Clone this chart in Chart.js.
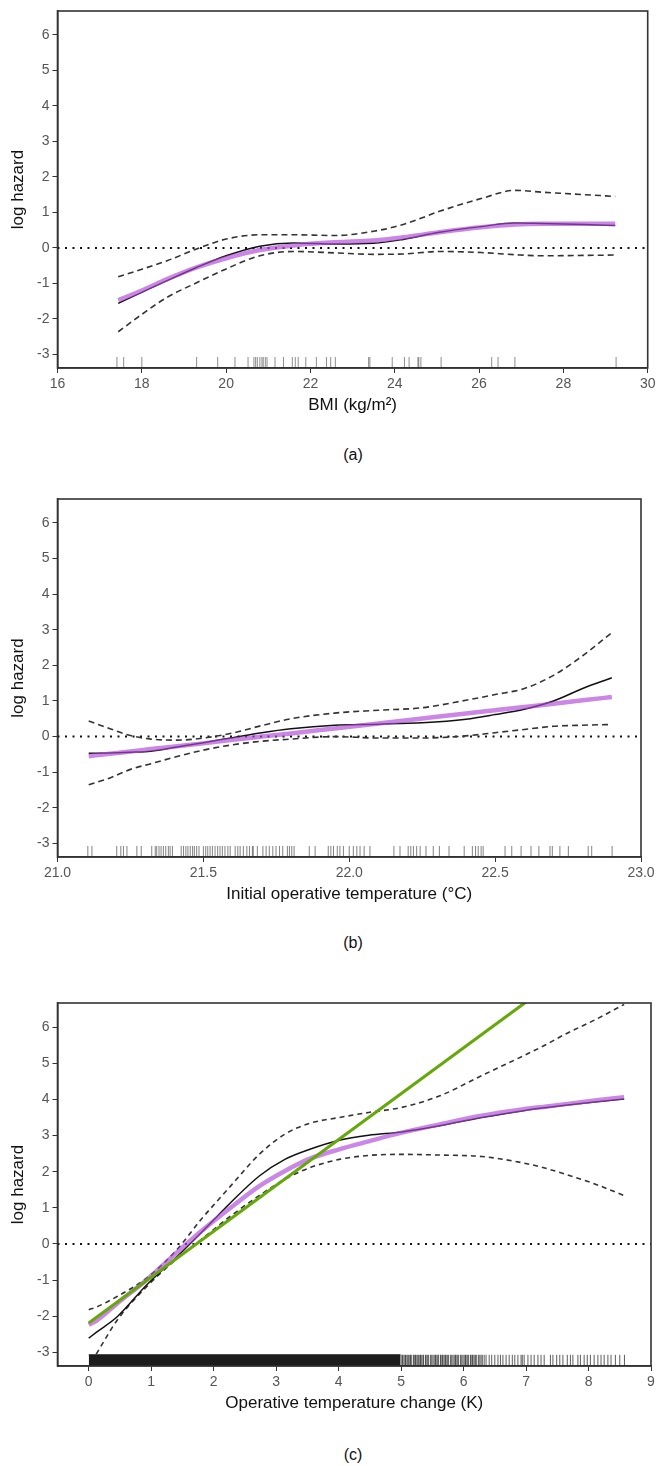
<!DOCTYPE html>
<html>
<head>
<meta charset="utf-8">
<title>log hazard</title>
<script src="https://cdn.jsdelivr.net/npm/chart.js@4.4.1/dist/chart.umd.min.js"></script>
<style>
  body { margin: 0; background: #fff; width: 656px; height: 1466px; position: relative; overflow: hidden; }
  .panel { position: absolute; left: 0; width: 656px; }
  .panel canvas { display: block; }
  .caption { position: absolute; left: 57px; width: 592px; text-align: center; font: 16px Arial, 'Liberation Sans', sans-serif; color: #111; line-height: 20px; }
</style>
</head>
<body>
<div class="panel" style="top:0px"><canvas id="chartA" width="656" height="428"></canvas></div>
<div class="caption" style="top:445px">(a)</div>
<div class="panel" style="top:488px"><canvas id="chartB" width="656" height="429"></canvas></div>
<div class="caption" style="top:933px">(b)</div>
<div class="panel" style="top:992px"><canvas id="chartC" width="656" height="434"></canvas></div>
<div class="caption" style="top:1445px">(c)</div>

<script>
/*** data ***/
const yTicks = [-3, -2, -1, 0, 1, 2, 3, 4, 5, 6];
const yMin = -3.38;
const yMax = 6.67;
const rugTop = -3.07;

// (a) BMI
const bmiTicks = [16, 18, 20, 22, 24, 26, 28, 30];
const bmiX = [17.44, 18.0, 18.6, 19.3, 20.0, 20.8, 21.6, 22.6, 23.5, 24.2, 25.06, 26.05, 26.85, 27.5, 28.5, 29.23];
const bmiSpline = [-1.56, -1.25, -0.92, -0.55, -0.22, 0.05, 0.14, 0.11, 0.13, 0.24, 0.44, 0.6, 0.7, 0.69, 0.66, 0.63];
const bmiSmooth = [-1.47, -1.2, -0.88, -0.55, -0.29, -0.06, 0.07, 0.16, 0.21, 0.3, 0.44, 0.58, 0.66, 0.68, 0.68, 0.68];
const bmiUpper = [-0.81, -0.6, -0.36, -0.03, 0.25, 0.37, 0.37, 0.35, 0.47, 0.66, 1.03, 1.39, 1.62, 1.57, 1.5, 1.45];
const bmiLower = [-2.36, -1.87, -1.39, -0.98, -0.59, -0.22, -0.1, -0.14, -0.18, -0.17, -0.1, -0.13, -0.19, -0.22, -0.21, -0.2];
const bmiRug = [17.41, 17.57, 18.0, 19.3, 19.8, 20.21, 20.52, 20.66, 20.7, 20.74, 20.8, 20.85, 20.88, 20.93, 20.97,
  21.16, 21.36, 21.57, 21.64, 21.71, 21.89, 22.14, 22.38, 22.48, 22.59, 23.38, 23.41, 23.94, 24.23, 24.34,
  24.55, 24.57, 24.62, 25.1, 26.3, 26.45, 26.85, 29.25];

// (b) initial operative temperature
const tempTicks = [21.0, 21.5, 22.0, 22.5, 23.0];
const tempX = [21.107, 21.18, 21.25, 21.32, 21.41, 21.5, 21.6, 21.7, 21.8, 21.95, 22.1, 22.25, 22.4, 22.5, 22.6, 22.7, 22.8, 22.9];
const tempSpline = [-0.47, -0.46, -0.44, -0.41, -0.29, -0.17, -0.03, 0.11, 0.22, 0.32, 0.35, 0.39, 0.49, 0.62, 0.77, 1.0, 1.35, 1.65];
const tempSmooth = [-0.55, -0.48, -0.42, -0.35, -0.27, -0.19, -0.09, 0.0, 0.09, 0.23, 0.37, 0.51, 0.65, 0.74, 0.83, 0.92, 1.02, 1.11];
const tempUpper = [0.44, 0.22, 0.03, -0.07, -0.1, -0.04, 0.1, 0.31, 0.5, 0.66, 0.74, 0.81, 1.02, 1.18, 1.35, 1.72, 2.27, 2.92];
const tempLower = [-1.35, -1.16, -0.92, -0.76, -0.56, -0.38, -0.23, -0.13, -0.07, 0.0, -0.04, -0.04, 0.02, 0.11, 0.2, 0.29, 0.32, 0.34];
const tempRug = [21.104, 21.118, 21.203, 21.217, 21.226, 21.238, 21.272, 21.287,
  21.323, 21.335, 21.34, 21.348, 21.355, 21.363, 21.371, 21.38, 21.386, 21.394,
  21.424, 21.432, 21.44, 21.447, 21.455, 21.463, 21.469, 21.477, 21.485,
  21.5, 21.508, 21.515, 21.523, 21.531, 21.54, 21.549, 21.557, 21.565, 21.574, 21.584, 21.592,
  21.609, 21.618, 21.626, 21.637, 21.649, 21.658, 21.668,
  21.671, 21.685, 21.704, 21.715, 21.726, 21.738, 21.749, 21.761, 21.772, 21.788, 21.795, 21.803, 21.811,
  21.863, 21.883, 21.928, 21.937, 21.946, 21.959, 21.968, 21.98,
  22.0, 22.014, 22.026, 22.037, 22.051, 22.071,
  22.153, 22.174, 22.202, 22.211, 22.22, 22.231, 22.243, 22.263, 22.288, 22.309,
  22.342, 22.394, 22.422, 22.433, 22.442, 22.452, 22.459,
  22.534, 22.557, 22.589, 22.623, 22.65, 22.688, 22.696, 22.722, 22.751, 22.819, 22.831, 22.901];

// (c) operative temperature change
const changeTicks = [0, 1, 2, 3, 4, 5, 6, 7, 8, 9];
const changeX = [0, 0.12, 0.46, 0.93, 1.39, 1.8, 2.27, 2.73, 3.14, 3.54, 4.01, 4.48, 5.01, 5.62, 6.29, 6.96, 7.3, 7.63, 8.1, 8.57];
const changeSpline = [-2.61, -2.45, -2.01, -1.13, -0.39, 0.31, 1.14, 1.88, 2.34, 2.62, 2.87, 3.01, 3.1, 3.27, 3.5, 3.69, 3.77, 3.84, 3.93, 4.01];
const changeSmooth = [-2.24, -2.13, -1.64, -0.99, -0.27, 0.35, 1.0, 1.6, 2.02, 2.36, 2.62, 2.84, 3.08, 3.31, 3.55, 3.73, 3.8, 3.87, 3.97, 4.06];
const changeUpper = [-1.82, -1.75, -1.45, -0.94, -0.2, 0.68, 1.6, 2.48, 3.04, 3.34, 3.5, 3.64, 3.78, 4.1, 4.66, 5.21, 5.5, 5.81, 6.2, 6.63];
const changeLower = [null, -3.05, -2.1, -1.18, -0.44, 0.12, 0.77, 1.34, 1.79, 2.11, 2.34, 2.45, 2.48, 2.46, 2.42, 2.24, 2.1, 1.93, 1.66, 1.34];
const changeLinearX = [0, 7.0];
const changeLinear = [-2.19, 6.7];
const changeRugDense = [0, 4.99];
const changeRug = [5.0, 5.02, 5.03, 5.05, 5.07, 5.08, 5.1, 5.12, 5.14, 5.15, 5.17, 5.2, 5.21, 5.23, 5.24, 5.26, 5.28, 5.3,
  5.31, 5.33, 5.35, 5.36, 5.39, 5.4, 5.42, 5.44, 5.47, 5.49, 5.51, 5.53, 5.55, 5.56, 5.58, 5.6, 5.63, 5.64, 5.66,
  5.67, 5.69, 5.71, 5.72, 5.74, 5.76, 5.79, 5.81, 5.83, 5.85, 5.87, 5.88, 5.9, 5.92, 5.95, 5.97, 5.99,
  6.01, 6.03, 6.04, 6.06, 6.08, 6.11, 6.12, 6.14, 6.15, 6.17, 6.19, 6.21, 6.24, 6.26, 6.28, 6.3,
  6.33, 6.36, 6.41, 6.45, 6.5, 6.55, 6.59, 6.63, 6.68, 6.73, 6.78, 6.82, 6.87, 6.92, 6.94, 6.97,
  7.03, 7.08, 7.13, 7.19, 7.24, 7.29, 7.39, 7.43, 7.49, 7.54, 7.59, 7.66, 7.71, 7.75, 7.83, 7.87,
  7.93, 7.98, 8.03, 8.09, 8.15, 8.2, 8.25, 8.31, 8.36, 8.43, 8.5, 8.575];

/*** helpers ***/
Chart.defaults.font.family = "Arial, 'Liberation Sans', sans-serif";

// draws the box around the plotting area
const frameBox = {
  id: 'frameBox',
  afterDatasetsDraw(chart) {
    const { ctx, chartArea: a } = chart;
    ctx.save();
    ctx.strokeStyle = '#333';
    ctx.lineWidth = 1.6;
    ctx.strokeRect(a.left, a.top, a.right - a.left, a.bottom - a.top);
    ctx.restore();
  },
};

function toPoints(xs, ys) {
  return xs.map((x, i) => ({ x: x, y: ys[i] }));
}

// each rug value becomes a short vertical segment, separated by gaps
function rugPoints(values) {
  const pts = [];
  values.forEach((v) => {
    pts.push({ x: v, y: yMin }, { x: v, y: rugTop }, { x: v, y: null });
  });
  return pts;
}

class HazardPanel {
  constructor(canvasId) {
    this.canvasId = canvasId;
  }

  generateChart(opt) {
    const datasets = [];

    if (opt.linear) {
      datasets.push({
        data: toPoints(opt.linear.x, opt.linear.y),
        borderColor: '#66a80c',
        borderWidth: 3,
        order: 0,
      });
    }
    datasets.push(
      {
        data: toPoints(opt.x, opt.smooth),
        borderColor: 'rgba(175, 70, 215, 0.65)',
        borderWidth: 4.5,
        cubicInterpolationMode: 'monotone',
        order: 1,
      },
      {
        data: toPoints(opt.x, opt.spline),
        borderColor: '#111',
        borderWidth: 1.5,
        cubicInterpolationMode: 'monotone',
        order: 2,
      },
      {
        data: toPoints(opt.x, opt.upper),
        borderColor: '#333',
        borderWidth: 1.6,
        borderDash: opt.dash,
        cubicInterpolationMode: 'monotone',
        order: 3,
      },
      {
        data: toPoints(opt.x, opt.lower),
        borderColor: '#333',
        borderWidth: 1.6,
        borderDash: opt.dash,
        cubicInterpolationMode: 'monotone',
        order: 3,
      },
      {
        data: [
          { x: opt.xMin, y: 0 },
          { x: opt.xMax, y: 0 },
        ],
        borderColor: '#111',
        borderWidth: 2,
        borderDash: [2, 5.5],
        order: 4,
      },
      {
        data: rugPoints(opt.rug),
        borderColor: opt.rugColor,
        borderWidth: 1,
        order: 5,
      }
    );
    if (opt.rugDense) {
      datasets.push({
        data: [
          { x: opt.rugDense[0], y: rugTop },
          { x: opt.rugDense[1], y: rugTop },
        ],
        borderColor: '#1c1c1c',
        borderWidth: 1,
        backgroundColor: '#1c1c1c',
        fill: 'start',
        order: 5,
      });
    }

    new Chart(document.getElementById(this.canvasId), {
      type: 'line',
      data: { datasets: datasets },
      plugins: [frameBox],
      options: {
        responsive: false,
        animation: false,
        spanGaps: false,
        layout: {
          padding: { top: 11, right: opt.padRight, bottom: 0, left: 0 },
        },
        elements: {
          point: { radius: 0 },
          line: { tension: 0, fill: false },
        },
        plugins: {
          legend: { display: false },
          tooltip: { enabled: false },
        },
        scales: {
          x: {
            type: 'linear',
            min: opt.xMin,
            max: opt.xMax,
            afterBuildTicks: (s) => {
              s.ticks = opt.xTicks.map((v) => ({ value: v }));
            },
            afterFit: (s) => {
              s.height = 60;
              s.paddingLeft = 0;
              s.paddingRight = 0;
            },
            grid: {
              drawOnChartArea: false,
              drawTicks: true,
              tickLength: 5,
              color: '#333',
            },
            border: { display: true, color: '#333', width: 1.6 },
            ticks: {
              padding: 3,
              color: '#555',
              font: { size: 14 },
              maxRotation: 0,
              autoSkip: false,
              callback: opt.xFormat,
            },
            title: {
              display: true,
              text: opt.xTitle,
              color: '#111',
              font: { size: 17 },
              padding: { top: 0, bottom: 12 },
            },
          },
          y: {
            type: 'linear',
            min: yMin,
            max: yMax,
            afterBuildTicks: (s) => {
              s.ticks = yTicks.map((v) => ({ value: v }));
            },
            afterFit: (s) => {
              s.width = 57.5;
              s.paddingTop = 0;
              s.paddingBottom = 0;
            },
            grid: {
              drawOnChartArea: false,
              drawTicks: true,
              tickLength: 5,
              color: '#333',
            },
            border: { display: true, color: '#333', width: 1.6 },
            ticks: {
              padding: 3,
              color: '#555',
              font: { size: 14 },
              autoSkip: false,
              callback: (v) => String(v),
            },
            title: {
              display: true,
              text: 'log hazard',
              color: '#111',
              font: { size: 17 },
              padding: { top: 8.5, bottom: 0 },
            },
          },
        },
      },
    });
  }
}

/*** init ***/
new HazardPanel('chartA').generateChart({
  x: bmiX,
  spline: bmiSpline,
  smooth: bmiSmooth,
  upper: bmiUpper,
  lower: bmiLower,
  rug: bmiRug,
  rugColor: 'rgba(30, 30, 30, 0.5)',
  dash: [6, 4],
  xMin: 16,
  xMax: 30,
  xTicks: bmiTicks,
  xFormat: (v) => String(v),
  xTitle: 'BMI (kg/m²)',
  padRight: 8.3,
});

new HazardPanel('chartB').generateChart({
  x: tempX,
  spline: tempSpline,
  smooth: tempSmooth,
  upper: tempUpper,
  lower: tempLower,
  rug: tempRug,
  rugColor: 'rgba(30, 30, 30, 0.55)',
  dash: [6, 4],
  xMin: 21,
  xMax: 23,
  xTicks: tempTicks,
  xFormat: (v) => v.toFixed(1),
  xTitle: 'Initial operative temperature (°C)',
  padRight: 15,
});

new HazardPanel('chartC').generateChart({
  x: changeX,
  spline: changeSpline,
  smooth: changeSmooth,
  upper: changeUpper,
  lower: changeLower,
  rug: changeRug,
  rugColor: 'rgba(25, 25, 25, 0.7)',
  rugDense: changeRugDense,
  linear: { x: changeLinearX, y: changeLinear },
  dash: [5, 4],
  xMin: -0.5,
  xMax: 9,
  xTicks: changeTicks,
  xFormat: (v) => String(v),
  xTitle: 'Operative temperature change (K)',
  padRight: 5,
});
</script>
</body>
</html>
